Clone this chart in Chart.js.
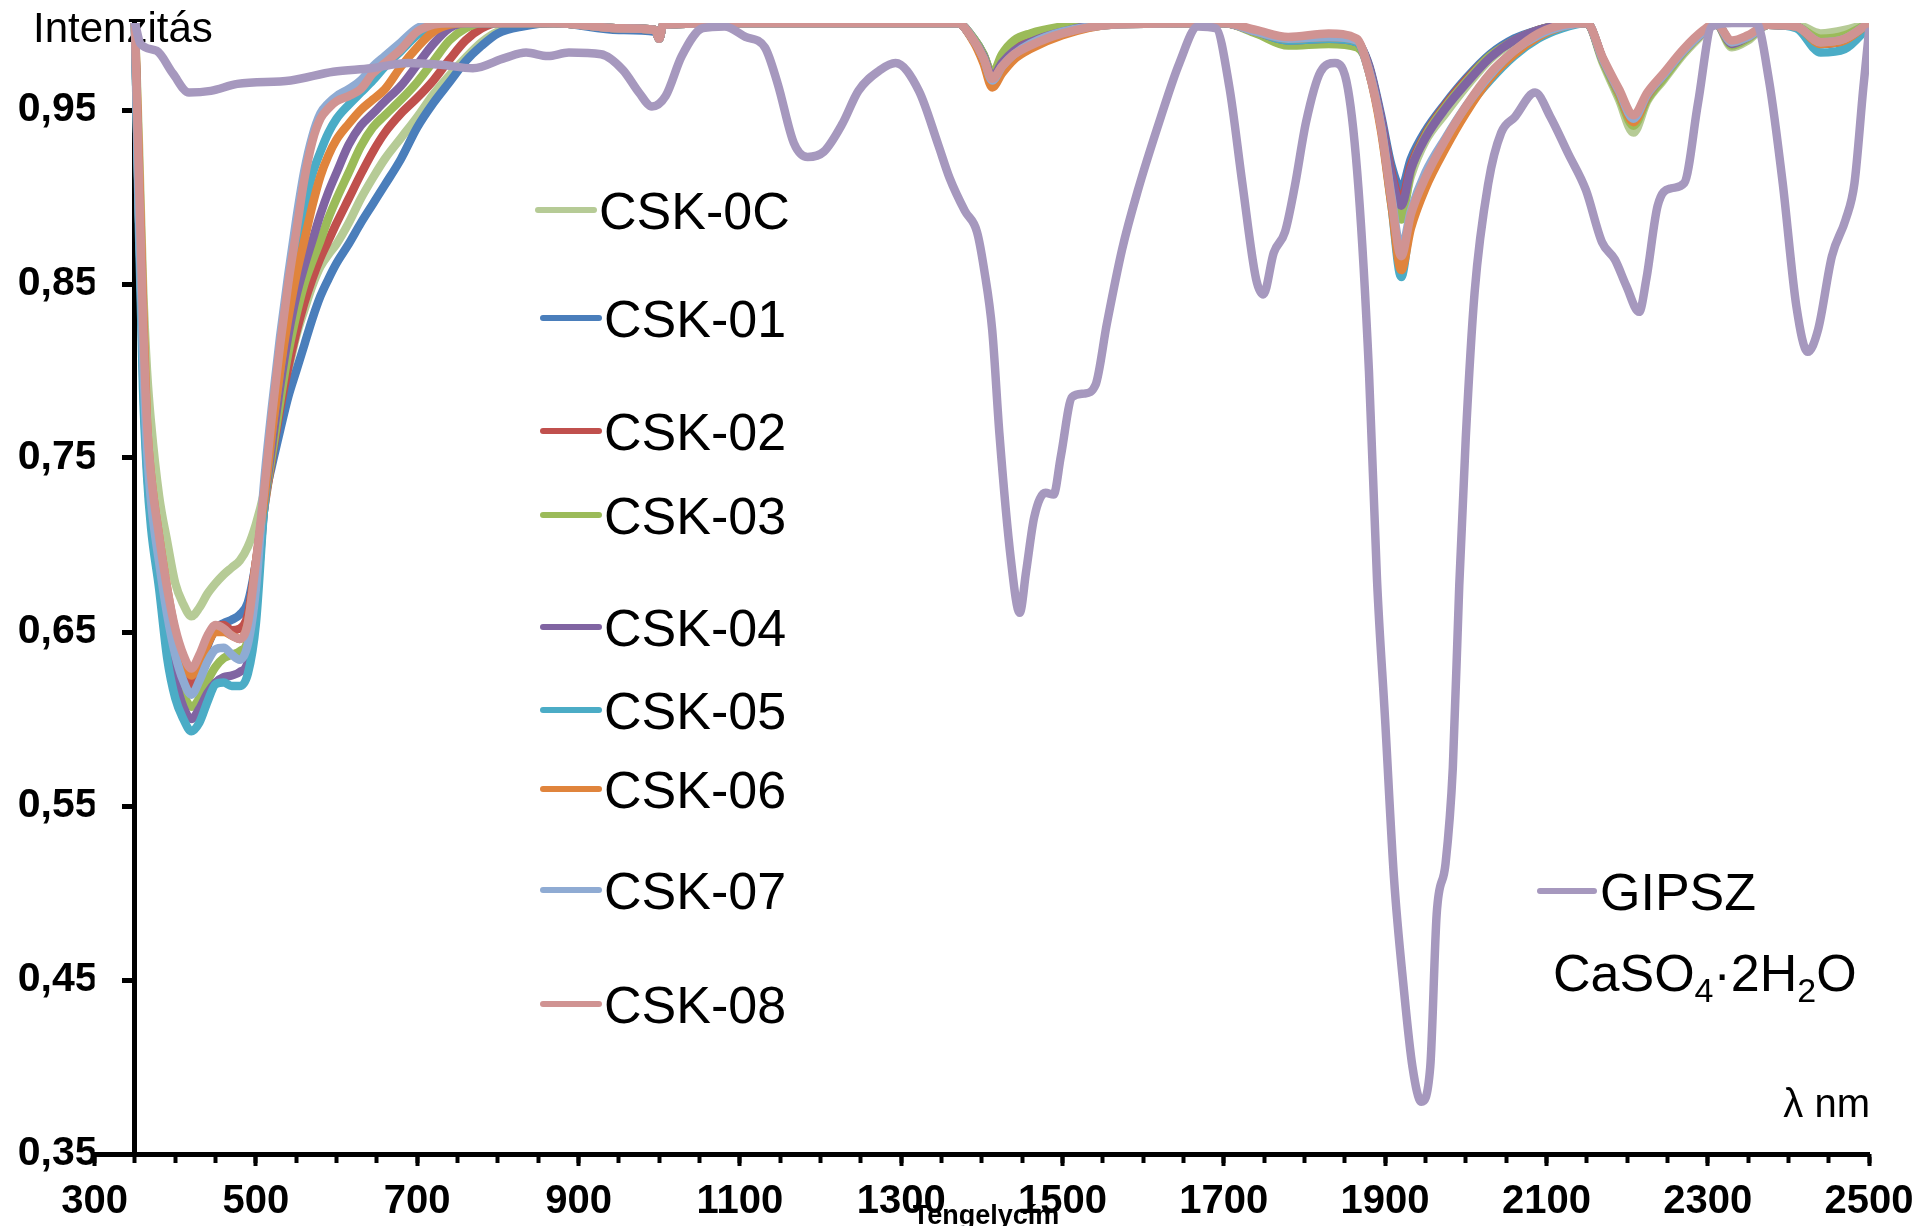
<!DOCTYPE html>
<html lang="hu">
<head>
<meta charset="utf-8">
<title>CSK / GIPSZ reflexiós spektrum</title>
<script src="https://cdn.jsdelivr.net/npm/chart.js@4.4.1/dist/chart.umd.min.js"></script>
<style>
  html, body { margin: 0; padding: 0; background: #ffffff; }
  #spektrum { display: block; }
</style>
</head>
<body>
<canvas id="spektrum" width="1932" height="1226"></canvas>
<script>
// Hullámhossz (nm) a CSK mintákhoz
const wavelengthCsk = [
    350, 355, 360, 365, 370, 380, 390, 400, 410, 420, 430, 440, 450, 460, 470, 480, 490, 500,
    510, 520, 530, 540, 550, 560, 570, 580, 590, 600, 615, 630, 645, 660, 680, 700, 720, 740, 760, 780, 800, 830, 870,
    950, 995, 1000, 1005, 1100, 1250,
    1370, 1390, 1402, 1413, 1425, 1440, 1460, 1500, 1560,
    1700, 1740, 1780, 1830, 1865,
    1880, 1895, 1908, 1920, 1932, 1950, 1975, 2000, 2030, 2060, 2090, 2120,
    2150, 2170, 2190, 2208, 2225, 2245, 2270, 2295,
    2310, 2330, 2350, 2375, 2410, 2440, 2470, 2500
];

const csk0C = [
    1.0, 0.93, 0.85, 0.80, 0.77, 0.728, 0.702, 0.678, 0.666, 0.659, 0.664, 0.672, 0.678, 0.683, 0.687, 0.691, 0.699, 0.712,
    0.73, 0.755, 0.778, 0.80, 0.82, 0.835, 0.849, 0.86, 0.867, 0.873, 0.885, 0.899, 0.911, 0.922, 0.934, 0.946, 0.959, 0.97, 0.98, 0.989, 0.995, 0.999, 1.0,
    0.997, 0.996, 0.991, 0.999, 1.0, 1.0,
    1.0, 0.991, 0.982, 0.970, 0.98, 0.987, 0.992, 0.997, 1.0,
    1.0, 0.995, 0.989, 0.99, 0.988,
    0.975, 0.944, 0.912, 0.891, 0.912, 0.932, 0.948, 0.963, 0.979, 0.989, 0.995, 0.999,
    1.0, 0.977, 0.956, 0.937, 0.955, 0.967, 0.982, 0.994,
    1.0, 0.986, 0.99, 0.999, 0.999, 0.994, 0.996, 1.0
];
const csk01 = [
    1.0, 0.90, 0.82, 0.76, 0.73, 0.70, 0.67, 0.645, 0.628, 0.618, 0.628, 0.642, 0.652, 0.655, 0.657, 0.660, 0.667, 0.69,
    0.724, 0.746, 0.766, 0.785, 0.80, 0.815, 0.83, 0.843, 0.853, 0.862, 0.873, 0.885, 0.896, 0.907, 0.922, 0.94, 0.954, 0.966, 0.978, 0.987, 0.994, 0.998, 1.0,
    0.996, 0.995, 0.991, 0.999, 1.0, 1.0,
    1.0, 0.991, 0.982, 0.970, 0.980, 0.988, 0.993, 0.997, 1.0,
    1.0, 0.995, 0.99, 0.991, 0.989,
    0.976, 0.947, 0.918, 0.905, 0.922, 0.938, 0.954, 0.968, 0.982, 0.991, 0.996, 0.999,
    1.0, 0.979, 0.96, 0.944, 0.958, 0.97, 0.984, 0.995,
    1.0, 0.988, 0.992, 0.999, 0.998, 0.988, 0.99, 1.0
];
const csk02 = [
    1.0, 0.90, 0.82, 0.76, 0.73, 0.70, 0.67, 0.645, 0.628, 0.62, 0.63, 0.643, 0.652, 0.654, 0.651, 0.652, 0.66, 0.69,
    0.72, 0.75, 0.778, 0.802, 0.822, 0.839, 0.853, 0.865, 0.875, 0.885, 0.899, 0.913, 0.926, 0.937, 0.948, 0.957, 0.967, 0.979, 0.99, 0.997, 1.0, 1.0, 1.0,
    0.997, 0.996, 0.991, 0.999, 1.0, 1.0,
    1.0, 0.99, 0.981, 0.969, 0.978, 0.985, 0.99, 0.996, 1.0,
    1.0, 0.995, 0.99, 0.991, 0.989,
    0.975, 0.945, 0.914, 0.898, 0.918, 0.936, 0.953, 0.967, 0.981, 0.99, 0.996, 0.999,
    1.0, 0.979, 0.96, 0.944, 0.958, 0.97, 0.984, 0.995,
    1.0, 0.988, 0.992, 0.999, 0.998, 0.988, 0.99, 1.0
];
const csk03 = [
    1.0, 0.89, 0.81, 0.75, 0.72, 0.685, 0.655, 0.632, 0.615, 0.607, 0.612, 0.622, 0.63, 0.635, 0.637, 0.639, 0.645, 0.675,
    0.72, 0.752, 0.782, 0.81, 0.832, 0.85, 0.863, 0.875, 0.888, 0.899, 0.914, 0.929, 0.94, 0.947, 0.956, 0.966, 0.978, 0.99, 0.997, 1.0, 1.0, 1.0, 1.0,
    0.997, 0.996, 0.991, 0.999, 1.0, 1.0,
    1.0, 0.991, 0.982, 0.971, 0.982, 0.99, 0.994, 0.998, 1.0,
    1.0, 0.994, 0.987, 0.988, 0.986,
    0.974, 0.942, 0.908, 0.887, 0.915, 0.935, 0.952, 0.966, 0.981, 0.99, 0.996, 0.999,
    1.0, 0.978, 0.958, 0.941, 0.956, 0.968, 0.983, 0.995,
    1.0, 0.987, 0.991, 0.999, 0.998, 0.991, 0.993, 1.0
];
const csk04 = [
    1.0, 0.89, 0.80, 0.745, 0.715, 0.68, 0.648, 0.623, 0.607, 0.600, 0.606, 0.615, 0.621, 0.624, 0.625, 0.627, 0.633, 0.665,
    0.72, 0.757, 0.791, 0.82, 0.843, 0.86, 0.875, 0.89, 0.903, 0.914, 0.93, 0.941, 0.948, 0.955, 0.964, 0.976, 0.988, 0.997, 1.0, 1.0, 1.0, 1.0, 1.0,
    0.997, 0.996, 0.991, 0.999, 1.0, 1.0,
    1.0, 0.99, 0.981, 0.969, 0.977, 0.984, 0.989, 0.995, 1.0,
    1.0, 0.995, 0.99, 0.991, 0.989,
    0.975, 0.945, 0.912, 0.895, 0.916, 0.934, 0.951, 0.965, 0.98, 0.99, 0.996, 0.999,
    1.0, 0.979, 0.96, 0.944, 0.958, 0.97, 0.984, 0.995,
    1.0, 0.988, 0.992, 0.999, 0.998, 0.988, 0.99, 1.0
];
const csk05 = [
    1.0, 0.88, 0.79, 0.74, 0.71, 0.675, 0.635, 0.612, 0.600, 0.593, 0.598, 0.61, 0.62, 0.621, 0.619, 0.619, 0.626, 0.655,
    0.72, 0.765, 0.80, 0.835, 0.867, 0.893, 0.913, 0.926, 0.937, 0.945, 0.953, 0.96, 0.967, 0.975, 0.984, 0.993, 0.998, 1.0, 1.0, 1.0, 1.0, 1.0, 1.0,
    0.997, 0.996, 0.991, 0.999, 1.0, 1.0,
    1.0, 0.99, 0.98, 0.966, 0.974, 0.981, 0.987, 0.994, 0.999,
    1.0, 0.995, 0.99, 0.991, 0.989,
    0.972, 0.94, 0.895, 0.854, 0.888, 0.91, 0.932, 0.95, 0.967, 0.981, 0.991, 0.997,
    1.0, 0.979, 0.96, 0.944, 0.958, 0.97, 0.984, 0.995,
    1.0, 0.989, 0.992, 0.999, 0.997, 0.983, 0.985, 0.998
];
const csk06 = [
    1.0, 0.92, 0.84, 0.77, 0.74, 0.705, 0.675, 0.65, 0.634, 0.625, 0.632, 0.643, 0.65, 0.65, 0.648, 0.646, 0.655, 0.69,
    0.725, 0.765, 0.80, 0.83, 0.855, 0.875, 0.895, 0.912, 0.924, 0.933, 0.942, 0.95, 0.956, 0.962, 0.975, 0.986, 0.995, 0.999, 1.0, 1.0, 1.0, 1.0, 1.0,
    0.997, 0.996, 0.991, 0.999, 1.0, 1.0,
    1.0, 0.989, 0.977, 0.963, 0.971, 0.979, 0.985, 0.993, 0.999,
    1.0, 0.995, 0.991, 0.992, 0.99,
    0.972, 0.938, 0.895, 0.858, 0.882, 0.905, 0.928, 0.948, 0.968, 0.982, 0.992, 0.998,
    1.0, 0.979, 0.96, 0.943, 0.958, 0.97, 0.984, 0.995,
    1.0, 0.989, 0.992, 0.999, 0.998, 0.988, 0.99, 1.0
];
const csk07 = [
    1.0, 0.89, 0.81, 0.755, 0.725, 0.69, 0.66, 0.637, 0.622, 0.614, 0.622, 0.633, 0.64, 0.641, 0.637, 0.634, 0.643, 0.675,
    0.735, 0.78, 0.82, 0.855, 0.887, 0.915, 0.935, 0.948, 0.954, 0.958, 0.962, 0.967, 0.975, 0.981, 0.989, 0.997, 1.0, 1.0, 1.0, 1.0, 1.0, 1.0, 1.0,
    0.997, 0.996, 0.991, 0.999, 1.0, 1.0,
    1.0, 0.99, 0.98, 0.967, 0.975, 0.982, 0.988, 0.995, 0.999,
    1.0, 0.995, 0.991, 0.992, 0.99,
    0.973, 0.941, 0.9, 0.87, 0.892, 0.914, 0.934, 0.952, 0.97, 0.984, 0.993, 0.998,
    1.0, 0.979, 0.961, 0.945, 0.959, 0.97, 0.984, 0.995,
    1.0, 0.989, 0.992, 0.999, 0.998, 0.989, 0.991, 1.0
];
const csk08 = [
    1.0, 0.91, 0.83, 0.77, 0.74, 0.705, 0.675, 0.652, 0.637, 0.629, 0.637, 0.648, 0.654, 0.652, 0.648, 0.646, 0.655, 0.69,
    0.73, 0.775, 0.815, 0.85, 0.88, 0.91, 0.932, 0.945, 0.951, 0.955, 0.958, 0.962, 0.971, 0.977, 0.985, 0.995, 0.999, 1.0, 1.0, 1.0, 1.0, 1.0, 1.0,
    0.997, 0.996, 0.991, 0.999, 1.0, 1.0,
    1.0, 0.99, 0.98, 0.968, 0.975, 0.982, 0.987, 0.994, 0.999,
    1.0, 0.996, 0.992, 0.994, 0.991,
    0.972, 0.94, 0.898, 0.866, 0.89, 0.911, 0.933, 0.952, 0.971, 0.984, 0.994, 0.999,
    1.0, 0.98, 0.962, 0.947, 0.96, 0.971, 0.985, 0.996,
    1.0, 0.99, 0.993, 0.999, 0.998, 0.989, 0.991, 1.0
];

// Gipsz (CaSO4·2H2O) referencia spektrum
const gipszWavelength = [
    350, 357, 377, 397, 417, 444, 477, 543, 596, 643, 689, 729, 769, 809, 835, 862, 888, 928, 955, 975,
    991, 1008, 1028, 1054, 1081, 1107, 1131, 1147, 1167, 1184, 1204, 1227, 1247, 1274, 1293, 1322, 1346, 1360, 1379, 1394,
    1403, 1413, 1422, 1436, 1447, 1455, 1465, 1479, 1489, 1498, 1512, 1527, 1541, 1555, 1574, 1593, 1622, 1645, 1668, 1690,
    1707, 1723, 1740, 1749, 1762, 1776, 1788, 1802, 1820, 1838, 1854, 1867, 1880, 1890, 1900, 1911, 1923, 1934, 1945, 1956,
    1964, 1975, 1984, 1992, 2000, 2011, 2028, 2044, 2061, 2086, 2105, 2127, 2149, 2169, 2185, 2199, 2215, 2224, 2238, 2255,
    2271, 2288, 2305, 2330, 2360, 2376, 2393, 2410, 2424, 2437, 2454, 2471, 2482, 2493, 2500
];
const gipszValues = [
    1.0, 0.988, 0.984, 0.971, 0.960, 0.961, 0.965, 0.967, 0.972, 0.974, 0.977, 0.976, 0.974, 0.980, 0.983, 0.981, 0.983, 0.982, 0.973, 0.960,
    0.952, 0.958, 0.981, 0.997, 0.998, 0.992, 0.986, 0.965, 0.931, 0.923, 0.926, 0.942, 0.961, 0.973, 0.977, 0.961, 0.930, 0.911, 0.892, 0.880,
    0.858, 0.823, 0.763, 0.692, 0.661, 0.685, 0.716, 0.730, 0.729, 0.751, 0.785, 0.787, 0.792, 0.827, 0.870, 0.903, 0.946, 0.977, 0.998, 0.997,
    0.963, 0.908, 0.853, 0.844, 0.868, 0.880, 0.906, 0.943, 0.972, 0.977, 0.962, 0.905, 0.800, 0.680, 0.600, 0.509, 0.446, 0.400, 0.380, 0.400,
    0.488, 0.517, 0.572, 0.677, 0.761, 0.845, 0.908, 0.937, 0.946, 0.960, 0.946, 0.925, 0.904, 0.874, 0.864, 0.849, 0.834, 0.853, 0.895, 0.905,
    0.908, 0.954, 0.998, 1.0, 1.0, 0.967, 0.908, 0.837, 0.811, 0.824, 0.866, 0.887, 0.908, 0.963, 0.995
];

const cskNames = ['CSK-0C', 'CSK-01', 'CSK-02', 'CSK-03', 'CSK-04', 'CSK-05', 'CSK-06', 'CSK-07', 'CSK-08'];
const cskSeries = [csk0C, csk01, csk02, csk03, csk04, csk05, csk06, csk07, csk08];
const cskColors = ['#b6cb96', '#4a7ebb', '#c0504d', '#9bbb59', '#8064a2', '#4bacc6', '#e0843c', '#8fabd3', '#d09392'];
const gipszColor = '#a698be';

// Tengely feliratok
const yTicks = [0.35, 0.45, 0.55, 0.65, 0.75, 0.85, 0.95];
const xMajorTicks = [300, 500, 700, 900, 1100, 1300, 1500, 1700, 1900, 2100, 2300, 2500];
const xMinorTicks = [
    300, 350, 400, 450, 500, 550, 600, 650, 700, 750, 800, 850, 900, 950, 1000, 1050, 1100, 1150, 1200, 1250,
    1300, 1350, 1400, 1450, 1500, 1550, 1600, 1650, 1700, 1750, 1800, 1850, 1900, 1950, 2000, 2050, 2100, 2150,
    2200, 2250, 2300, 2350, 2400, 2450, 2500
];

const FONT = '"Liberation Sans", Arial, sans-serif';

// Jelmagyarázat elrendezése (pixel)
const legendRows = [210, 318, 431, 515, 627, 710, 789, 890, 1004];

const toPoints = (xs, ys) => xs.map((x, i) => ({ x: x, y: ys[i] }));

const setTicks = (values) => (scale) => {
    scale.ticks = values.map(v => ({ value: v }));
};

const formatComma = (v) => Number(v).toFixed(2).replace('.', ',');

// Feliratok, jelmagyarázat
const feliratokPlugin = {
    id: 'feliratok',
    beforeDraw: (chart) => {
        const ctx = chart.ctx;
        ctx.save();
        ctx.fillStyle = '#000';
        ctx.font = 'bold 27px ' + FONT;
        ctx.textAlign = 'center';
        ctx.textBaseline = 'alphabetic';
        ctx.fillText('Tengelycím', 986, 1224);
        ctx.restore();
    },
    beforeDatasetsDraw: (chart) => {
        const ctx = chart.ctx;
        ctx.save();
        ctx.fillStyle = '#000';
        ctx.font = '42px ' + FONT;
        ctx.textAlign = 'left';
        ctx.textBaseline = 'alphabetic';
        ctx.fillText('Intenzitás', 33, 42);
        ctx.restore();
    },
    afterDraw: (chart) => {
        const ctx = chart.ctx;
        ctx.save();
        ctx.lineCap = 'round';
        ctx.lineWidth = 6;
        ctx.textAlign = 'left';
        ctx.textBaseline = 'alphabetic';

        cskNames.forEach((name, i) => {
            const y = legendRows[i];
            const x0 = i === 0 ? 538 : 543;
            ctx.strokeStyle = cskColors[i];
            ctx.beginPath();
            ctx.moveTo(x0, y);
            ctx.lineTo(x0 + 56, y);
            ctx.stroke();
            ctx.fillStyle = '#000';
            ctx.font = '52px ' + FONT;
            ctx.fillText(name, x0 + 61, y + 19);
        });

        // GIPSZ
        ctx.strokeStyle = gipszColor;
        ctx.beginPath();
        ctx.moveTo(1540, 891);
        ctx.lineTo(1594, 891);
        ctx.stroke();
        ctx.fillStyle = '#000';
        ctx.font = '52px ' + FONT;
        ctx.fillText('GIPSZ', 1600, 910);

        // CaSO4·2H2O
        const parts = [
            ['CaSO', false], ['4', true], ['·2H', false], ['2', true], ['O', false]
        ];
        let x = 1553;
        parts.forEach(([txt, sub]) => {
            ctx.font = (sub ? '34px ' : '52px ') + FONT;
            ctx.fillText(txt, x, sub ? 1002 : 991);
            x += ctx.measureText(txt).width;
        });

        ctx.font = '40px ' + FONT;
        ctx.textAlign = 'right';
        ctx.fillText('λ nm', 1870, 1117);
        ctx.restore();
    }
};

const datasets = cskNames.map((name, i) => ({
    label: name,
    data: toPoints(wavelengthCsk, cskSeries[i]),
    borderColor: cskColors[i],
    backgroundColor: cskColors[i],
    order: cskNames.length - i
}));
datasets.push({
    label: 'GIPSZ',
    data: toPoints(gipszWavelength, gipszValues),
    borderColor: gipszColor,
    backgroundColor: gipszColor,
    order: 0
});

const inicializarGrafico = () => {
    const ctx = document.getElementById('spektrum');
    new Chart(ctx, {
        type: 'line',
        data: { datasets: datasets },
        options: {
            responsive: false,
            animation: false,
            devicePixelRatio: 1,
            layout: { padding: { left: 0, right: 63, top: 23, bottom: 0 } },
            plugins: {
                legend: { display: false },
                tooltip: { enabled: false }
            },
            elements: {
                point: { radius: 0, hoverRadius: 0 },
                line: {
                    borderWidth: 8.5,
                    cubicInterpolationMode: 'monotone',
                    borderJoinStyle: 'round',
                    borderCapStyle: 'round',
                    fill: false
                }
            },
            datasets: { line: { clip: 0 } },
            scales: {
                x: {
                    type: 'linear',
                    axis: 'x',
                    position: 'bottom',
                    weight: 1,
                    min: 300,
                    max: 2500,
                    afterBuildTicks: setTicks(xMajorTicks),
                    afterFit: (s) => { s.height = 72; s.paddingLeft = 0; s.paddingRight = 0; },
                    grid: { drawOnChartArea: false, drawTicks: true, tickLength: 12, tickWidth: 4, tickColor: '#000' },
                    border: { display: true, color: '#000', width: 5 },
                    ticks: {
                        autoSkip: false,
                        maxRotation: 0,
                        padding: 12,
                        color: '#000',
                        font: { family: FONT, size: 40, weight: 'bold' },
                        callback: (v) => String(v)
                    }
                },
                xMinor: {
                    type: 'linear',
                    axis: 'x',
                    position: 'bottom',
                    weight: 0,
                    min: 300,
                    max: 2500,
                    afterBuildTicks: setTicks(xMinorTicks),
                    afterFit: (s) => { s.height = 0; s.paddingLeft = 0; s.paddingRight = 0; },
                    grid: { drawOnChartArea: false, drawTicks: true, tickLength: 9, tickWidth: 4, tickColor: '#000' },
                    border: { display: false },
                    ticks: { display: false }
                },
                y: {
                    type: 'linear',
                    axis: 'y',
                    position: 'left',
                    min: 0.35,
                    max: 1.0,
                    afterBuildTicks: setTicks(yTicks),
                    afterFit: (s) => { s.width = 94.6; s.paddingTop = 0; s.paddingBottom = 0; },
                    grid: { display: false, drawTicks: false },
                    border: { display: false },
                    ticks: {
                        padding: -3,
                        color: '#000',
                        font: { family: FONT, size: 41, weight: 'bold' },
                        callback: (v) => formatComma(v)
                    }
                },
                yAxisLine: {
                    type: 'linear',
                    axis: 'y',
                    position: { x: 350 },
                    min: 0.35,
                    max: 1.0,
                    afterBuildTicks: setTicks(yTicks),
                    afterFit: (s) => { s.width = 0; s.paddingTop = 0; s.paddingBottom = 0; },
                    grid: { drawOnChartArea: false, drawTicks: true, tickLength: 10, tickWidth: 5, tickColor: '#000' },
                    border: { display: true, color: '#000', width: 5 },
                    ticks: { display: false }
                }
            }
        },
        plugins: [feliratokPlugin]
    });
};

if (document.readyState === 'loading') {
    document.addEventListener('DOMContentLoaded', inicializarGrafico);
} else {
    inicializarGrafico();
}
</script>
</body>
</html>
